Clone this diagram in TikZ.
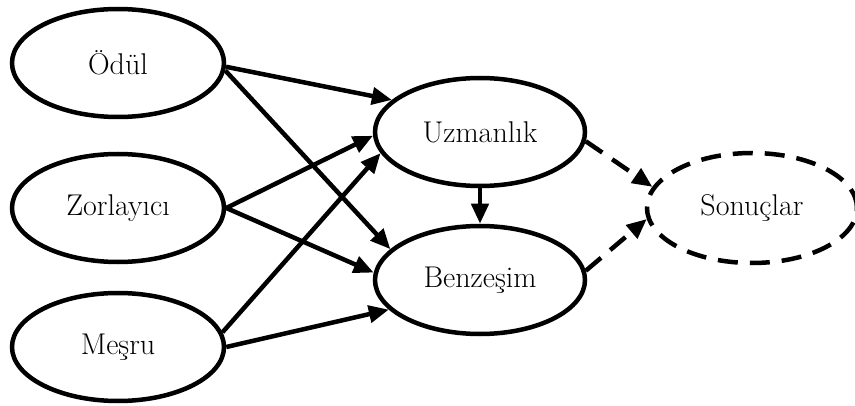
\documentclass[tikz,border=0pt]{standalone}
\usepackage{fontspec}
\usetikzlibrary{shapes.geometric,arrows.meta}
\begin{document}
\begin{tikzpicture}[x=1pt,y=1pt,
  ell/.style={ellipse,draw=black,line width=4.5pt,inner sep=0pt,
    minimum width=212pt,minimum height=108pt,font=\fontsize{30}{34}\selectfont},
  dashell/.style={ell,dash pattern=on 20pt off 12pt},
  conn/.style={line width=4.5pt,-{Triangle[length=20pt,width=17pt]}},
  dconn/.style={conn,dash pattern=on 20pt off 12pt}]
\useasboundingbox (0,0) rectangle (855,405);
\node[ell] (odul) at (118,342) {Ödül};
\node[ell] (zor) at (118,197) {Zorlayıcı};
\node[ell] (mesru) at (118,58) {Meşru};
\node[ell,minimum width=210pt] (uzm) at (480,273) {Uzmanlık};
\node[ell,minimum width=210pt] (benz) at (480,125) {Benzeşim};
\node[dashell,minimum width=210pt,minimum height=110pt] (son) at (752,197) {Sonuçlar};
\draw[conn] (odul.-2) -- (uzm.160);
\draw[conn] (odul.-4) -- (benz.161);
\draw[conn] (zor.east) -- (uzm.182);
\draw[conn] (zor.east) -- (benz.176);
\draw[conn] (mesru.8) -- (uzm.192);
\draw[conn] (mesru.0) -- (benz.198);
\draw[conn] (uzm.south) -- (benz.north);
\draw[dconn] (uzm.-5) -- (son.168);
\draw[dconn] (benz.5) -- (son.186);
\end{tikzpicture}
\end{document}
